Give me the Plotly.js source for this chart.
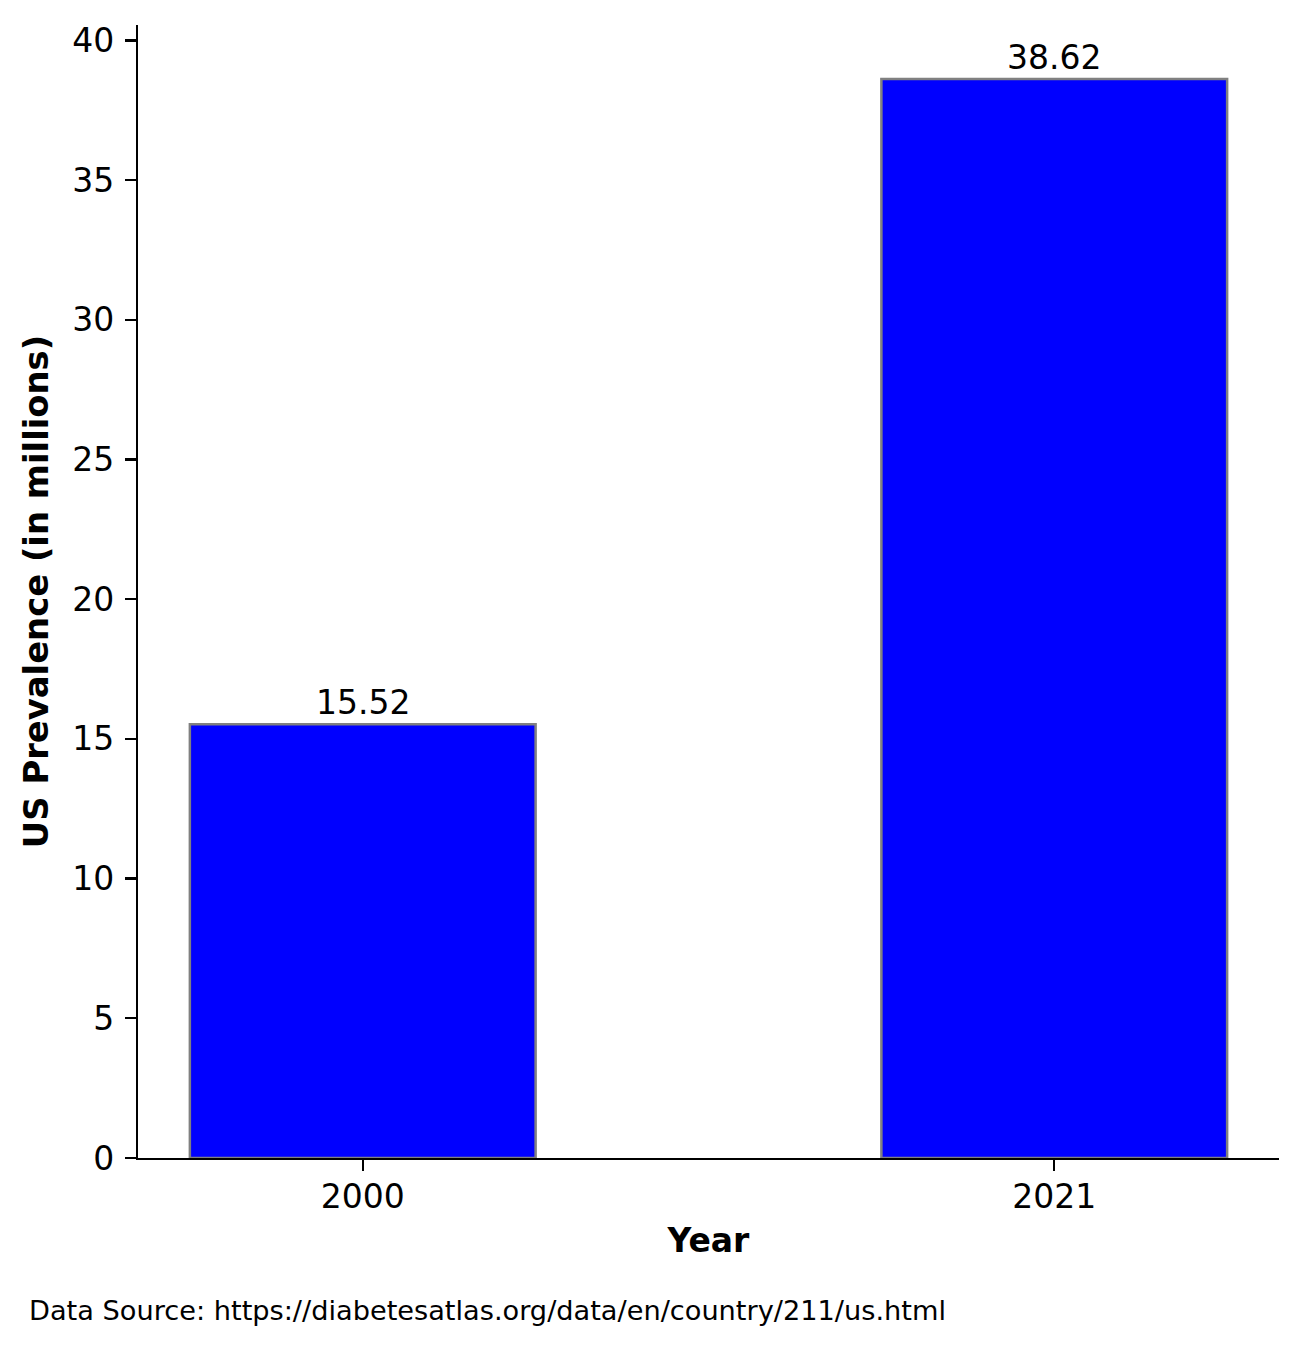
<!DOCTYPE html>
<html>
<head>
<meta charset="utf-8">
<script src="https://cdn.plot.ly/plotly-3.0.1.min.js"></script>
<style>
html,body{margin:0;padding:0;background:#fff;}
#chart{width:1303px;height:1350px;}
</style>
</head>
<body>
<div id="chart"></div>
<script>
const years = ["2000", "2021"];
const prevalence = [15.52, 38.62];
const yTicks = [0, 5, 10, 15, 20, 25, 30, 35, 40];
const sourceText = "Data Source: https://diabetesatlas.org/data/en/country/211/us.html";

const xPos = years.map((_, i) => i);
const font = "DejaVu Sans, sans-serif";

const trace = {
  type: "bar",
  x: xPos,
  y: prevalence,
  width: 0.5,
  marker: {color: "#0000ff", line: {color: "#808080", width: 2.5}},
  hoverinfo: "none"
};

const labels = prevalence.map((v, i) => ({
  x: xPos[i], y: v, xref: "x", yref: "y",
  text: v.toFixed(2), showarrow: false,
  yanchor: "bottom", xanchor: "center",
  font: {family: font, size: 33, color: "#000"}
}));

const ymax = Math.max(...prevalence) * 1.05;

const layout = {
  width: 1303, height: 1350,
  margin: {l: 138, r: 24, t: 25, b: 192},
  paper_bgcolor: "#fff", plot_bgcolor: "#fff",
  showlegend: false,
  font: {family: font, size: 33, color: "#000"},
  xaxis: {
    range: [-0.325, 1.325],
    tickvals: xPos, ticktext: years,
    showgrid: false, zeroline: false,
    showline: true, linecolor: "#000", linewidth: 2.2,
    ticks: "outside", ticklen: 11, tickwidth: 2.2, tickcolor: "#000",
    ticklabelstandoff: -3,
    tickfont: {family: font, size: 33, color: "#000"},
    title: {text: "Year", font: {family: font, size: 33, color: "#000", weight: "bold"}, standoff: 14}
  },
  yaxis: {
    range: [0, ymax],
    tickvals: yTicks,
    showgrid: false, zeroline: false,
    showline: true, linecolor: "#000", linewidth: 2.2,
    ticks: "outside", ticklen: 11, tickwidth: 2.2, tickcolor: "#000",
    ticklabelstandoff: 4,
    tickfont: {family: font, size: 33, color: "#000"},
    title: {text: "US Prevalence (in millions)", font: {family: font, size: 33.8, color: "#000", weight: "bold"}, standoff: 13}
  },
  annotations: labels.concat([{
    xref: "paper", yref: "paper",
    x: -111/1141, y: -152/1133,
    xanchor: "left", yanchor: "middle",
    text: sourceText, showarrow: false,
    font: {family: font, size: 27.2, color: "#000"}
  }])
};

Plotly.newPlot("chart", [trace], layout, {displayModeBar: false, staticPlot: true});
</script>
</body>
</html>
